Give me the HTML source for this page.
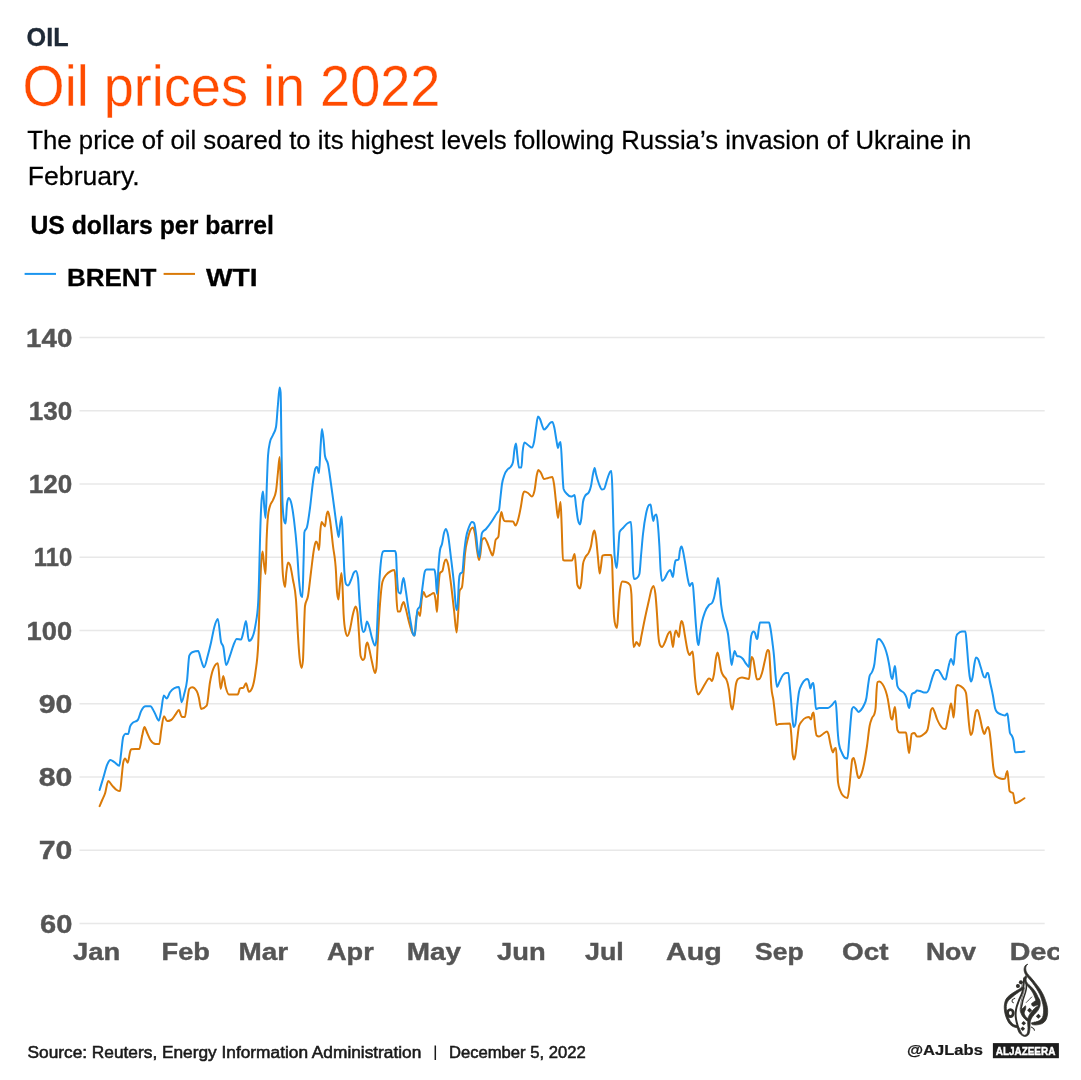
<!DOCTYPE html>
<html><head><meta charset="utf-8"><title>Oil prices in 2022</title>
<style>
html,body{margin:0;padding:0;background:#fff;}
body{width:1081px;height:1080px;position:relative;overflow:hidden;}
svg{position:absolute;left:0;top:0;will-change:transform;font-family:"Liberation Sans",sans-serif;}
text{white-space:pre;}
</style></head><body>
<svg width="1081" height="1080" viewBox="0 0 1081 1080">
<defs><clipPath id="cl"><rect x="0" y="0" width="1059" height="1080"/></clipPath></defs>

<g stroke="#e8e8e8" stroke-width="1.5"><line x1="79.5" x2="1044.7" y1="337.60" y2="337.60"/><line x1="79.5" x2="1044.7" y1="410.85" y2="410.85"/><line x1="79.5" x2="1044.7" y1="484.10" y2="484.10"/><line x1="79.5" x2="1044.7" y1="557.35" y2="557.35"/><line x1="79.5" x2="1044.7" y1="630.60" y2="630.60"/><line x1="79.5" x2="1044.7" y1="703.85" y2="703.85"/><line x1="79.5" x2="1044.7" y1="777.10" y2="777.10"/><line x1="79.5" x2="1044.7" y1="850.35" y2="850.35"/><line x1="79.5" x2="1044.7" y1="923.60" y2="923.60"/></g>
<path d="M99.6 806.2C100.5 804.1 101.3 802.0 102.2 800.0C103.2 797.7 104.1 796.3 105.1 793.3C106.1 790.1 107.2 781.1 108.2 781.1C109.5 781.1 110.9 784.2 112.2 785.6C113.7 787.2 115.2 789.1 116.7 790.0C117.8 790.7 118.9 791.1 120.0 791.1C120.6 791.1 121.2 780.9 121.8 775.6C122.3 771.2 122.8 764.3 123.3 762.2C123.9 759.7 124.5 758.4 125.1 758.4C126.0 758.4 126.9 762.7 127.8 762.7C128.5 762.7 129.3 754.7 130.0 752.2C130.4 751.0 130.7 749.3 131.1 749.3C133.8 749.0 136.6 749.2 139.3 748.9C140.3 748.8 141.2 739.6 142.2 735.6C142.9 732.5 143.7 727.1 144.4 727.1C145.4 727.1 146.3 731.2 147.3 733.3C148.3 735.5 149.4 738.4 150.4 740.0C152.1 742.7 153.9 744.0 155.6 744.0C156.8 744.0 158.1 744.0 159.3 744.0C159.9 744.0 160.5 734.9 161.1 731.1C162.1 724.9 163.0 716.2 164.0 716.2C165.0 716.2 166.1 721.1 167.1 721.1C168.4 721.1 169.8 720.7 171.1 720.0C172.6 719.2 174.1 716.3 175.6 714.4C176.7 713.0 177.8 710.0 178.9 710.0C179.8 710.0 180.7 716.5 181.6 716.7C182.7 717.0 183.8 717.1 184.9 717.1C185.6 717.1 186.4 706.9 187.1 702.2C187.8 697.5 188.6 689.7 189.3 688.9C190.3 687.8 191.2 687.3 192.2 687.3C193.7 687.3 195.2 688.6 196.7 691.1C197.4 692.3 198.2 694.8 198.9 697.8C199.6 700.8 200.4 708.9 201.1 708.9C203.0 708.9 204.8 707.8 206.7 705.6C207.8 704.3 208.9 688.3 210.0 682.2C211.1 676.1 212.2 671.6 213.3 668.9C214.8 665.2 216.3 663.3 217.8 663.3C218.8 663.3 219.7 688.9 220.7 688.9C221.6 688.9 222.4 676.0 223.3 676.0C224.1 676.0 224.8 683.9 225.6 686.7C226.7 690.8 227.8 694.4 228.9 694.4C231.9 694.4 234.8 694.4 237.8 694.4C238.5 694.4 239.3 688.7 240.0 688.4C241.1 688.0 242.2 688.2 243.3 687.8C244.2 687.5 245.1 683.3 246.0 683.3C247.0 683.3 247.9 691.8 248.9 691.8C250.0 691.8 251.1 690.5 252.2 687.8C253.3 685.1 254.5 680.1 255.6 671.1C256.5 664.2 257.3 662.2 258.2 644.4C258.8 632.1 259.4 605.7 260.0 590.0C260.3 581.3 260.7 572.0 261.0 566.0C261.5 556.4 262.1 551.6 262.6 551.6C263.1 551.6 263.5 560.4 264.0 564.0C264.5 568.1 265.1 574.0 265.6 574.0C265.9 574.0 266.3 549.0 266.6 540.0C267.1 527.4 267.5 520.7 268.0 516.0C268.7 509.3 269.3 508.5 270.0 506.0C271.0 502.2 272.0 502.5 273.0 500.0C274.0 497.5 275.0 497.0 276.0 491.0C276.7 487.0 277.3 478.3 278.0 472.0C278.5 467.0 279.1 457.0 279.6 457.0C279.9 457.0 280.3 466.2 280.6 480.0C280.9 493.8 281.3 524.8 281.6 540.0C282.1 561.3 282.5 570.9 283.0 576.0C283.7 583.3 284.3 587.0 285.0 587.0C285.5 587.0 285.9 576.0 286.4 572.0C286.9 567.5 287.5 562.4 288.0 562.4C288.7 562.4 289.3 563.3 290.0 565.0C291.0 567.6 292.0 574.2 293.0 580.0C294.0 585.8 295.0 586.7 296.0 600.0C296.7 608.9 297.3 625.6 298.0 636.0C298.5 644.3 299.1 652.7 299.6 658.0C300.3 664.6 300.9 668.0 301.6 668.0C302.1 668.0 302.5 665.3 303.0 660.0C303.3 656.2 303.7 639.0 304.0 630.0C304.3 621.0 304.7 608.2 305.0 606.0C306.0 599.3 307.0 601.7 308.0 596.0C309.0 590.3 310.0 579.8 311.0 572.0C312.0 564.2 313.0 554.3 314.0 549.0C314.7 545.5 315.3 541.6 316.0 541.6C316.5 541.6 317.1 542.4 317.6 544.0C318.1 545.4 318.5 550.0 319.0 550.0C319.5 550.0 319.9 534.8 320.4 530.0C320.8 525.9 321.2 522.0 321.6 522.0C322.2 522.0 322.8 523.6 323.4 524.4C323.9 525.1 324.5 526.4 325.0 526.4C325.5 526.4 325.9 518.4 326.4 516.0C326.9 513.2 327.5 511.6 328.0 511.6C328.7 511.6 329.3 516.0 330.0 520.0C331.0 526.0 332.0 537.3 333.0 546.0C334.0 554.7 335.0 554.8 336.0 572.0C336.3 577.7 336.7 588.4 337.0 592.0C337.5 597.1 337.9 599.6 338.4 599.6C338.8 599.6 339.2 591.7 339.6 588.0C340.2 582.5 340.8 573.0 341.4 573.0C341.7 573.0 342.1 578.2 342.4 584.0C342.8 590.9 343.2 606.5 343.6 614.0C344.2 625.3 344.8 628.0 345.4 631.0C346.1 634.3 346.7 636.0 347.4 636.0C348.1 636.0 348.9 633.5 349.6 631.0C350.7 627.2 351.9 618.3 353.0 614.0C353.9 610.7 354.7 606.6 355.6 606.6C356.2 606.6 356.8 608.4 357.4 612.0C357.9 615.2 358.5 626.7 359.0 634.0C359.5 641.3 360.1 654.2 360.6 656.0C361.4 658.7 362.2 660.0 363.0 660.0C363.5 660.0 364.1 659.3 364.6 658.0C365.1 656.8 365.5 648.3 366.0 646.0C366.5 643.7 366.9 642.6 367.4 642.6C367.9 642.6 368.5 646.0 369.0 648.0C370.0 651.8 371.0 657.8 372.0 662.0C373.0 666.2 374.0 673.0 375.0 673.0C375.5 673.0 375.9 671.3 376.4 668.0C376.9 664.2 377.5 645.7 378.0 636.0C378.7 623.9 379.3 612.6 380.0 604.0C380.8 593.7 381.6 585.1 382.4 582.0C383.6 577.3 384.8 576.8 386.0 575.0C387.7 572.6 389.3 571.8 391.0 571.0C392.1 570.4 393.3 570.0 394.4 570.0C394.8 570.0 395.2 574.1 395.6 580.0C395.9 584.9 396.3 594.7 396.6 600.0C396.9 605.3 397.3 611.6 397.6 611.6C398.4 611.6 399.2 611.6 400.0 611.6C400.7 611.6 401.3 606.7 402.0 605.0C402.5 603.7 403.1 602.0 403.6 602.0C404.3 602.0 404.9 605.7 405.6 608.0C406.7 611.9 407.9 617.8 409.0 622.0C410.0 625.7 411.0 629.7 412.0 632.0C412.9 634.0 413.7 635.6 414.6 635.6C415.1 635.6 415.5 623.7 416.0 620.0C416.7 614.7 417.3 612.0 418.0 612.0C418.7 612.0 419.3 616.0 420.0 616.0C420.5 616.0 421.1 603.9 421.6 600.0C422.3 595.1 422.9 592.0 423.6 592.0C424.4 592.0 425.2 597.0 426.0 597.0C427.3 597.0 428.7 595.7 430.0 595.0C431.3 594.3 432.7 593.0 434.0 593.0C434.5 593.0 435.1 596.5 435.6 600.0C436.1 603.1 436.5 612.0 437.0 612.0C437.5 612.0 437.9 594.3 438.4 588.0C438.9 580.8 439.5 573.9 440.0 573.0C440.8 571.7 441.6 572.3 442.4 571.0C443.1 569.9 443.7 563.9 444.4 562.0C444.9 560.5 445.5 559.4 446.0 559.4C446.7 559.4 447.3 561.3 448.0 564.0C449.0 568.0 450.0 576.3 451.0 584.0C452.0 591.7 453.0 601.4 454.0 610.0C454.9 617.5 455.7 632.4 456.6 632.4C457.1 632.4 457.5 622.3 458.0 616.0C458.5 608.8 459.1 592.8 459.6 591.0C460.4 588.3 461.2 589.7 462.0 587.0C462.5 585.2 463.1 578.0 463.6 572.0C464.1 566.8 464.5 558.9 465.0 554.0C466.0 543.5 467.0 542.2 468.0 538.0C469.0 533.8 470.0 530.4 471.0 529.0C471.7 528.1 472.3 527.6 473.0 527.6C473.7 527.6 474.3 530.3 475.0 534.0C475.7 537.7 476.3 545.7 477.0 550.0C477.7 554.3 478.3 560.0 479.0 560.0C479.5 560.0 479.9 557.0 480.4 554.0C480.9 550.6 481.5 540.9 482.0 540.0C482.8 538.7 483.6 538.0 484.4 538.0C485.3 538.0 486.1 540.2 487.0 542.0C488.0 544.1 489.0 547.6 490.0 550.0C490.9 552.0 491.7 555.4 492.6 555.4C493.1 555.4 493.5 552.3 494.0 550.0C494.5 547.3 495.1 541.3 495.6 540.0C496.5 537.7 497.5 538.9 498.4 536.6C498.9 535.3 499.5 524.2 500.0 520.0C500.5 516.3 500.9 512.0 501.4 512.0C501.9 512.0 502.5 516.5 503.0 518.0C503.5 519.4 503.9 521.0 504.4 521.0C507.3 521.3 510.1 521.1 513.0 521.4C513.9 521.5 514.7 525.6 515.6 525.6C516.4 525.6 517.2 522.7 518.0 520.0C519.0 516.6 520.0 511.5 521.0 506.0C521.7 502.4 522.3 496.3 523.0 494.0C523.5 492.4 523.9 491.6 524.4 491.6C525.6 491.6 526.8 492.3 528.0 493.0C529.3 493.8 530.7 496.4 532.0 496.4C532.8 496.4 533.6 494.4 534.4 491.0C535.3 487.3 536.1 477.6 537.0 474.0C537.5 472.1 537.9 470.0 538.4 470.0C539.3 470.0 540.1 471.7 541.0 473.0C542.0 474.5 543.0 479.0 544.0 479.0C545.3 479.0 546.7 478.3 548.0 478.0C549.5 477.6 550.9 477.0 552.4 477.0C552.9 477.0 553.5 480.6 554.0 484.0C554.7 488.3 555.3 496.3 556.0 502.0C556.7 507.7 557.3 518.0 558.0 518.0C558.5 518.0 558.9 510.8 559.4 508.0C559.8 505.6 560.2 502.0 560.6 502.0C560.9 502.0 561.3 516.2 561.6 524.0C562.1 535.0 562.5 559.8 563.0 560.0C564.0 560.4 565.0 560.6 566.0 560.6C568.0 560.6 570.0 560.6 572.0 560.6C572.9 560.6 573.7 554.0 574.6 554.0C575.1 554.0 575.5 562.8 576.0 568.0C576.5 573.2 576.9 583.8 577.4 585.0C578.3 587.3 579.1 588.4 580.0 588.4C580.5 588.4 580.9 585.6 581.4 582.0C581.9 577.9 582.5 567.2 583.0 564.0C583.7 560.0 584.3 559.7 585.0 558.0C586.3 554.7 587.7 555.3 589.0 552.0C589.7 550.3 590.3 549.0 591.0 546.0C591.7 543.0 592.3 536.6 593.0 534.0C593.5 532.2 593.9 530.6 594.4 530.6C594.9 530.6 595.5 534.3 596.0 538.0C596.7 542.7 597.3 551.4 598.0 558.0C598.5 563.3 599.1 573.6 599.6 573.6C600.1 573.6 600.5 569.0 601.0 566.0C601.5 563.0 601.9 555.8 602.4 555.6C603.3 555.2 604.1 555.0 605.0 555.0C607.0 555.0 609.0 555.0 611.0 555.0C611.3 555.0 611.7 556.7 612.0 560.0C612.3 563.3 612.7 580.7 613.0 590.0C613.3 599.3 613.7 611.8 614.0 616.0C614.5 622.7 615.1 624.5 615.6 626.0C616.1 627.3 616.5 628.0 617.0 628.0C617.5 628.0 617.9 615.9 618.4 610.0C618.9 603.2 619.5 593.8 620.0 590.0C620.8 584.3 621.6 581.4 622.4 581.4C623.6 581.4 624.8 581.6 626.0 582.0C627.3 582.4 628.7 583.0 630.0 585.0C630.5 585.7 630.9 588.0 631.4 594.0C631.7 598.3 632.1 617.5 632.4 626.0C632.8 636.2 633.2 647.0 633.6 647.0C634.1 647.0 634.5 645.8 635.0 645.0C635.5 644.2 635.9 642.0 636.4 642.0C636.9 642.0 637.5 643.3 638.0 644.0C638.5 644.6 638.9 646.0 639.4 646.0C640.1 646.0 640.7 639.3 641.4 636.0C642.6 630.0 643.8 623.7 645.0 618.0C646.3 611.6 647.7 605.8 649.0 600.0C649.9 596.2 650.7 591.4 651.6 589.0C652.2 587.4 652.8 586.0 653.4 586.0C654.1 586.0 654.7 588.7 655.4 594.0C655.9 598.3 656.5 606.4 657.0 614.0C657.5 620.6 657.9 630.9 658.4 636.0C658.9 641.9 659.5 643.9 660.0 645.0C660.7 646.3 661.3 647.0 662.0 647.0C663.0 647.0 664.0 644.2 665.0 642.0C666.0 639.8 667.0 635.7 668.0 634.0C668.8 632.6 669.6 631.6 670.4 631.6C670.9 631.6 671.5 639.0 672.0 642.0C672.3 643.9 672.7 647.0 673.0 647.0C673.5 647.0 673.9 638.7 674.4 636.0C674.9 632.9 675.5 630.6 676.0 630.6C676.5 630.6 677.1 632.9 677.6 634.0C678.1 635.0 678.5 637.0 679.0 637.0C679.3 637.0 679.7 630.4 680.0 628.0C680.5 624.6 680.9 621.0 681.4 621.0C681.9 621.0 682.5 622.0 683.0 624.0C683.7 626.5 684.3 632.2 685.0 636.0C686.0 641.7 687.0 648.9 688.0 652.0C688.5 653.6 689.1 655.0 689.6 655.0C690.1 655.0 690.5 653.5 691.0 653.0C691.5 652.4 692.1 651.6 692.6 651.6C692.9 651.6 693.3 656.6 693.6 660.0C694.1 664.8 694.5 673.1 695.0 678.0C695.7 685.0 696.3 689.7 697.0 692.0C697.5 693.6 697.9 694.4 698.4 694.4C699.3 694.4 700.1 692.3 701.0 691.0C702.3 689.0 703.7 686.1 705.0 684.0C706.3 681.9 707.7 678.4 709.0 678.4C709.5 678.4 709.9 678.6 710.4 679.0C710.9 679.4 711.5 681.0 712.0 681.0C712.7 681.0 713.3 677.8 714.0 674.0C714.7 670.2 715.3 661.7 716.0 658.0C716.5 655.1 717.1 652.4 717.6 652.4C718.2 652.4 718.8 656.8 719.4 660.0C719.9 662.8 720.5 667.6 721.0 670.0C721.7 673.1 722.3 673.6 723.0 675.0C724.3 677.9 725.7 677.0 727.0 681.0C727.7 683.0 728.3 685.8 729.0 690.0C729.7 694.2 730.3 702.8 731.0 706.0C731.5 708.2 731.9 709.6 732.4 709.6C732.9 709.6 733.5 703.7 734.0 700.0C734.7 695.4 735.3 687.3 736.0 684.0C736.7 680.7 737.3 679.5 738.0 679.0C739.3 678.1 740.7 677.6 742.0 677.6C744.3 677.6 746.7 679.0 749.0 679.0C749.5 679.0 749.9 669.9 750.4 666.0C750.8 662.7 751.2 657.0 751.6 657.0C752.2 657.0 752.8 658.0 753.4 660.0C753.9 661.8 754.5 667.0 755.0 670.0C755.7 673.7 756.3 679.4 757.0 679.4C757.8 679.4 758.6 679.3 759.4 679.0C760.3 678.7 761.1 675.8 762.0 673.0C763.0 669.8 764.0 664.1 765.0 660.0C765.9 656.5 766.7 650.0 767.6 650.0C768.1 650.0 768.5 650.3 769.0 651.0C769.3 651.5 769.7 659.1 770.0 664.0C770.5 670.9 770.9 682.4 771.4 688.0C772.1 696.0 772.7 695.0 773.4 700.0C773.9 704.0 774.5 709.6 775.0 714.0C775.5 717.9 775.9 725.0 776.4 725.0C777.3 725.0 778.1 724.1 779.0 724.0C782.7 723.7 786.3 723.6 790.0 723.6C790.5 723.6 790.9 730.3 791.4 736.0C791.8 740.9 792.2 750.9 792.6 754.0C793.1 757.6 793.5 759.4 794.0 759.4C794.5 759.4 795.1 757.2 795.6 754.0C796.2 750.4 796.8 742.9 797.4 738.0C797.9 733.7 798.5 727.8 799.0 726.0C800.0 722.7 801.0 722.3 802.0 721.0C803.3 719.2 804.7 718.1 806.0 717.6C807.0 717.2 808.0 717.0 809.0 717.0C809.7 717.0 810.3 719.4 811.0 719.4C811.5 719.4 811.9 715.2 812.4 714.0C812.8 713.0 813.2 712.4 813.6 712.4C814.1 712.4 814.5 722.3 815.0 726.0C815.5 730.2 816.1 735.0 816.6 735.4C817.4 736.1 818.2 736.4 819.0 736.4C820.3 736.4 821.7 734.8 823.0 734.0C824.3 733.2 825.7 731.6 827.0 731.6C827.5 731.6 827.9 732.6 828.4 734.0C829.1 736.0 829.7 741.2 830.4 744.0C831.3 747.7 832.1 752.4 833.0 752.4C833.5 752.4 833.9 749.6 834.4 749.0C834.9 748.3 835.5 748.0 836.0 748.0C836.3 748.0 836.7 758.3 837.0 764.0C837.3 769.7 837.7 779.3 838.0 782.0C838.7 787.3 839.3 787.9 840.0 790.0C841.0 793.1 842.0 794.5 843.0 795.6C844.5 797.2 845.9 798.0 847.4 798.0C848.1 798.0 848.7 791.5 849.4 786.0C849.9 781.6 850.5 774.7 851.0 770.0C851.5 765.9 851.9 759.8 852.4 759.0C852.8 758.3 853.2 758.0 853.6 758.0C854.2 758.0 854.8 761.4 855.4 764.0C856.1 766.9 856.7 772.6 857.4 775.0C857.8 776.5 858.2 778.0 858.6 778.0C859.4 778.0 860.2 776.9 861.0 775.0C862.0 772.7 863.0 768.8 864.0 764.0C865.0 759.2 866.0 752.9 867.0 746.0C867.9 740.0 868.7 730.7 869.6 726.0C870.4 721.7 871.2 720.0 872.0 718.0C872.8 716.0 873.6 716.7 874.4 714.0C874.8 712.7 875.2 712.0 875.6 708.0C875.9 704.7 876.3 694.3 876.6 690.0C876.9 685.7 877.3 682.2 877.6 682.0C878.2 681.6 878.8 681.4 879.4 681.4C880.4 681.4 881.4 682.6 882.4 684.0C883.4 685.4 884.4 687.1 885.4 690.0C886.1 692.2 886.9 694.4 887.6 698.0C888.3 701.2 888.9 706.1 889.6 710.0C890.1 712.7 890.5 716.9 891.0 718.0C891.5 719.1 891.9 719.6 892.4 719.6C892.8 719.6 893.2 714.0 893.6 712.0C894.1 709.6 894.5 707.0 895.0 707.0C895.3 707.0 895.7 712.9 896.0 716.0C896.5 720.4 896.9 728.9 897.4 730.0C898.1 731.6 898.7 732.4 899.4 732.4C901.6 732.5 903.8 732.5 906.0 732.6C906.5 732.6 906.9 738.8 907.4 742.0C907.9 745.6 908.5 753.0 909.0 753.0C909.5 753.0 909.9 747.5 910.4 744.0C910.8 741.0 911.2 734.3 911.6 734.0C912.5 733.3 913.5 733.0 914.4 733.0C915.3 733.0 916.1 736.6 917.0 736.6C918.0 736.6 919.0 736.5 920.0 736.4C921.3 736.2 922.7 735.2 924.0 734.0C925.1 733.0 926.3 732.7 927.4 730.0C928.1 728.4 928.7 723.8 929.4 720.0C929.9 717.0 930.5 711.3 931.0 710.0C931.5 708.7 932.1 708.0 932.6 708.0C933.3 708.0 933.9 710.4 934.6 712.0C935.4 713.9 936.2 717.0 937.0 719.0C938.0 721.5 939.0 723.4 940.0 725.0C941.0 726.6 942.0 728.3 943.0 728.6C943.9 728.9 944.7 729.0 945.6 729.0C946.2 729.0 946.8 724.0 947.4 721.0C948.1 717.7 948.7 713.1 949.4 710.0C949.9 707.5 950.5 703.6 951.0 703.6C951.5 703.6 951.9 707.4 952.4 710.0C952.8 712.2 953.2 717.6 953.6 717.6C954.1 717.6 954.5 708.0 955.0 702.0C955.3 697.7 955.7 689.2 956.0 688.0C956.5 686.0 957.1 685.0 957.6 685.0C958.7 685.0 959.9 685.7 961.0 686.4C962.0 687.1 963.0 687.5 964.0 689.0C964.7 690.0 965.3 690.3 966.0 693.0C966.5 694.9 966.9 701.2 967.4 706.0C967.9 711.4 968.5 719.2 969.0 724.0C969.5 728.8 970.1 735.0 970.6 735.0C971.2 735.0 971.8 734.0 972.4 732.0C973.1 729.8 973.7 722.8 974.4 719.0C974.9 716.0 975.5 711.7 976.0 711.0C976.5 710.3 977.1 710.0 977.6 710.0C978.4 710.0 979.2 714.8 980.0 718.0C980.8 721.2 981.6 726.2 982.4 729.0C983.1 731.3 983.7 734.0 984.4 734.0C985.1 734.0 985.7 730.2 986.4 729.0C986.9 728.0 987.5 727.0 988.0 727.0C988.5 727.0 989.1 728.9 989.6 732.0C990.2 735.5 990.8 742.4 991.4 748.0C992.1 754.3 992.7 763.4 993.4 768.0C994.1 772.6 994.7 774.7 995.4 775.6C996.6 777.2 997.8 777.4 999.0 778.0C1000.3 778.6 1001.7 779.0 1003.0 779.0C1003.7 779.0 1004.3 778.9 1005.0 778.6C1005.5 778.4 1005.9 774.3 1006.4 773.0C1006.7 772.1 1007.1 771.0 1007.4 771.0C1007.7 771.0 1008.1 777.0 1008.4 780.0C1008.8 783.6 1009.2 790.4 1009.6 791.0C1010.2 791.9 1010.8 792.1 1011.4 792.4C1011.9 792.7 1012.5 792.6 1013.0 793.0C1013.7 793.5 1014.4 803.3 1015.1 803.3C1016.5 803.3 1017.9 802.2 1019.3 801.5C1021.0 800.6 1022.7 799.4 1024.4 798.2" fill="none" stroke="#da7a08" stroke-width="2" stroke-linejoin="round" stroke-linecap="round"/>
<path d="M99.6 790.0C100.8 785.9 102.1 781.9 103.3 777.8C104.6 773.4 106.0 767.4 107.3 764.4C108.3 762.1 109.4 760.0 110.4 760.0C111.7 760.0 113.1 761.4 114.4 762.2C116.0 763.2 117.7 765.8 119.3 765.8C119.9 765.8 120.5 757.6 121.1 753.3C121.8 748.0 122.6 738.5 123.3 736.7C124.1 734.8 124.8 733.8 125.6 733.8C126.5 733.8 127.3 734.0 128.2 734.0C128.8 734.0 129.4 728.5 130.0 726.7C130.7 724.6 131.5 724.2 132.2 723.3C134.1 721.1 135.9 722.2 137.8 720.0C138.9 718.7 140.0 713.3 141.1 711.1C142.6 708.1 144.1 706.2 145.6 706.2C147.2 706.2 148.8 706.2 150.4 706.2C151.7 706.2 153.1 710.0 154.4 712.2C155.9 714.7 157.4 720.7 158.9 720.7C159.6 720.7 160.4 714.8 161.1 711.1C162.0 706.6 162.9 695.6 163.8 695.6C164.8 695.6 165.7 698.4 166.7 698.4C167.8 698.4 168.9 693.8 170.0 692.2C171.5 690.1 172.9 688.9 174.4 688.2C175.9 687.5 177.4 687.1 178.9 687.1C179.8 687.1 180.7 702.2 181.6 702.2C182.5 702.2 183.5 697.1 184.4 693.3C185.3 689.6 186.2 687.5 187.1 680.0C187.8 673.9 188.6 657.3 189.3 655.6C190.3 653.3 191.2 652.6 192.2 652.2C194.2 651.5 196.2 651.1 198.2 651.1C199.2 651.1 200.1 657.3 201.1 660.0C202.1 662.7 203.0 667.3 204.0 667.3C205.3 667.3 206.5 660.2 207.8 655.6C208.9 651.6 210.0 647.0 211.1 642.2C212.2 637.4 213.3 630.6 214.4 626.7C215.5 622.7 216.7 618.9 217.8 618.9C218.9 618.9 220.0 637.7 221.1 642.2C221.8 645.2 222.6 643.8 223.3 646.7C224.3 650.5 225.2 665.1 226.2 665.1C227.5 665.1 228.7 659.1 230.0 655.6C231.1 652.5 232.2 648.4 233.3 645.6C234.4 642.8 235.6 638.9 236.7 638.9C238.2 638.9 239.6 639.6 241.1 639.6C241.8 639.6 242.6 634.9 243.3 632.2C244.2 628.9 245.1 621.1 246.0 621.1C247.0 621.1 247.9 641.1 248.9 641.1C250.0 641.1 251.1 640.0 252.2 637.8C253.3 635.5 254.5 631.8 255.6 624.4C256.5 618.7 257.3 617.0 258.2 602.2C258.5 597.6 258.7 588.9 259.0 580.0C259.3 568.9 259.7 551.4 260.0 540.0C260.5 521.7 261.1 506.4 261.6 500.0C262.1 494.4 262.5 491.6 263.0 491.6C263.5 491.6 263.9 503.4 264.4 508.0C264.8 512.0 265.2 518.0 265.6 518.0C266.1 518.0 266.5 491.8 267.0 480.0C267.3 471.6 267.7 460.7 268.0 456.0C268.7 446.7 269.3 445.1 270.0 442.0C271.0 437.3 272.0 437.5 273.0 435.0C274.0 432.5 275.0 432.3 276.0 427.0C276.7 423.4 277.3 411.2 278.0 404.0C278.5 398.2 279.1 387.6 279.6 387.6C279.9 387.6 280.3 389.2 280.6 392.4C280.9 395.0 281.1 424.1 281.4 440.0C281.7 459.9 282.1 491.7 282.4 500.0C282.9 513.3 283.5 517.6 284.0 520.0C284.5 522.4 285.1 523.6 285.6 523.6C286.1 523.6 286.5 507.5 287.0 504.0C287.5 500.0 288.1 498.0 288.6 498.0C289.4 498.0 290.2 499.3 291.0 502.0C292.0 505.3 293.0 512.0 294.0 520.0C295.0 528.0 296.0 537.0 297.0 550.0C297.7 558.7 298.3 572.4 299.0 580.0C299.7 587.6 300.3 594.1 301.0 595.5C301.5 596.5 301.9 597.0 302.4 597.0C302.8 597.0 303.2 573.3 303.6 560.0C303.9 551.1 304.1 533.0 304.4 532.0C305.3 528.7 306.1 530.3 307.0 527.0C308.0 523.2 309.0 515.5 310.0 508.0C311.0 500.5 312.0 488.9 313.0 482.0C313.9 476.0 314.7 469.2 315.6 468.0C316.1 467.3 316.5 467.0 317.0 467.0C317.7 467.0 318.3 473.0 319.0 473.0C319.5 473.0 320.1 453.7 320.6 446.0C321.1 439.3 321.5 429.0 322.0 429.0C322.5 429.0 323.1 435.0 323.6 440.0C324.1 444.3 324.5 453.5 325.0 456.0C326.0 461.3 327.0 459.3 328.0 464.0C329.0 468.7 330.0 477.0 331.0 484.0C332.0 491.0 333.0 498.7 334.0 506.0C335.0 513.3 336.0 521.8 337.0 528.0C337.5 531.3 338.1 537.0 338.6 537.0C339.1 537.0 339.5 529.3 340.0 526.0C340.5 522.3 341.1 516.4 341.6 516.4C342.1 516.4 342.5 530.7 343.0 540.0C343.5 549.3 343.9 565.0 344.4 572.0C344.9 580.0 345.5 583.1 346.0 584.0C346.7 585.1 347.3 585.6 348.0 585.6C349.0 585.6 350.0 582.2 351.0 580.0C352.0 577.8 353.0 573.8 354.0 572.4C354.7 571.5 355.3 571.0 356.0 571.0C356.7 571.0 357.3 573.3 358.0 578.0C358.5 581.3 358.9 593.4 359.4 600.0C360.1 609.5 360.7 618.7 361.4 624.0C362.1 629.3 362.7 632.0 363.4 632.0C363.9 632.0 364.5 631.3 365.0 630.0C365.7 628.3 366.3 621.6 367.0 621.6C367.7 621.6 368.3 624.1 369.0 626.0C370.0 628.9 371.0 634.7 372.0 638.0C373.0 641.3 374.0 645.6 375.0 645.6C375.5 645.6 375.9 643.7 376.4 640.0C376.9 635.7 377.5 616.3 378.0 606.0C378.7 593.1 379.3 580.6 380.0 572.0C381.0 559.1 382.0 552.5 383.0 551.6C383.5 551.2 383.9 551.0 384.4 551.0C387.9 551.0 391.5 551.0 395.0 551.0C395.3 551.0 395.7 552.0 396.0 554.0C396.3 556.0 396.7 570.1 397.0 576.0C397.5 584.2 397.9 591.3 398.4 592.0C399.1 593.1 399.9 593.6 400.6 593.6C401.2 593.6 401.8 584.7 402.4 582.0C402.8 580.2 403.2 578.0 403.6 578.0C404.2 578.0 404.8 584.3 405.4 588.0C406.3 593.3 407.1 600.4 408.0 606.0C409.0 612.5 410.0 618.6 411.0 624.0C411.7 627.6 412.3 632.7 413.0 634.0C413.5 635.1 414.1 635.6 414.6 635.6C415.1 635.6 415.5 628.3 416.0 624.0C416.5 619.7 416.9 611.4 417.4 610.0C418.3 607.3 419.1 608.7 420.0 606.0C420.8 603.5 421.6 593.6 422.4 588.0C423.3 581.9 424.1 572.5 425.0 571.0C425.5 570.1 426.1 569.6 426.6 569.6C429.2 569.6 431.8 569.6 434.4 569.6C434.8 569.6 435.2 572.5 435.6 576.0C436.1 580.1 436.5 594.0 437.0 594.0C437.5 594.0 437.9 575.1 438.4 568.0C438.9 559.9 439.5 553.2 440.0 550.0C440.7 546.0 441.3 546.8 442.0 544.0C442.7 541.2 443.3 535.5 444.0 533.0C444.7 530.5 445.3 529.0 446.0 529.0C446.7 529.0 447.3 531.8 448.0 535.0C449.0 539.9 450.0 549.8 451.0 558.0C452.0 566.2 453.0 574.1 454.0 584.0C454.8 591.9 455.6 610.0 456.4 610.0C456.8 610.0 457.2 608.7 457.6 606.0C458.1 602.9 458.5 585.2 459.0 580.0C459.3 576.3 459.7 574.6 460.0 574.0C460.8 572.7 461.6 573.3 462.4 572.0C462.9 571.1 463.5 559.2 464.0 554.0C464.7 547.5 465.3 542.2 466.0 538.0C467.0 531.7 468.0 529.7 469.0 527.0C470.0 524.3 471.0 522.0 472.0 522.0C472.7 522.0 473.3 522.3 474.0 523.0C474.7 523.7 475.3 529.2 476.0 534.0C476.7 538.8 477.3 548.1 478.0 552.0C478.5 554.7 478.9 557.0 479.4 557.0C479.8 557.0 480.2 547.8 480.6 544.0C481.1 539.6 481.5 533.9 482.0 533.0C483.3 530.3 484.7 530.5 486.0 529.0C488.0 526.7 490.0 524.0 492.0 521.0C493.7 518.5 495.3 515.5 497.0 513.0C497.7 512.0 498.3 512.0 499.0 510.0C499.5 508.6 499.9 502.0 500.4 498.0C500.9 493.4 501.5 487.6 502.0 484.0C502.8 478.6 503.6 477.3 504.4 475.0C505.6 471.5 506.8 470.5 508.0 469.0C509.0 467.8 510.0 468.1 511.0 466.4C511.7 465.3 512.3 464.9 513.0 462.0C513.5 459.9 513.9 453.0 514.4 450.0C514.9 446.6 515.5 443.6 516.0 443.6C516.5 443.6 516.9 452.2 517.4 456.0C517.9 460.3 518.5 467.6 519.0 467.6C519.8 467.6 520.6 467.6 521.4 467.6C521.8 467.6 522.2 456.0 522.6 452.0C523.2 446.0 523.8 442.4 524.4 442.4C525.6 442.4 526.8 444.2 528.0 445.0C529.3 445.9 530.7 447.6 532.0 447.6C532.7 447.6 533.3 445.3 534.0 442.0C534.7 438.7 535.3 432.2 536.0 428.0C536.7 423.8 537.3 416.6 538.0 416.6C538.7 416.6 539.3 417.6 540.0 419.0C540.7 420.4 541.3 423.2 542.0 425.0C542.7 426.8 543.3 429.6 544.0 429.6C545.0 429.6 546.0 428.1 547.0 427.0C548.0 425.9 549.0 423.8 550.0 423.0C550.8 422.3 551.6 422.0 552.4 422.0C553.1 422.0 553.7 425.0 554.4 428.0C555.1 431.0 555.7 436.4 556.4 440.0C556.9 442.9 557.5 448.0 558.0 448.0C558.5 448.0 558.9 443.8 559.4 443.0C559.8 442.3 560.2 442.0 560.6 442.0C560.9 442.0 561.3 450.3 561.6 456.0C561.9 461.7 562.3 470.5 562.6 476.0C562.9 481.5 563.3 488.0 563.6 489.0C564.7 492.3 565.9 492.8 567.0 494.0C568.3 495.5 569.7 496.6 571.0 496.6C571.7 496.6 572.3 496.3 573.0 496.0C573.5 495.7 574.1 495.0 574.6 495.0C575.1 495.0 575.5 502.5 576.0 506.0C576.7 511.0 577.3 517.1 578.0 520.0C578.7 522.9 579.3 524.4 580.0 524.4C580.5 524.4 580.9 521.3 581.4 518.0C581.9 514.2 582.5 505.2 583.0 502.0C583.7 498.0 584.3 497.3 585.0 496.0C586.3 493.3 587.7 494.7 589.0 492.0C589.7 490.7 590.3 489.0 591.0 486.0C591.7 483.0 592.3 477.2 593.0 474.0C593.5 471.5 594.1 468.0 594.6 468.0C595.1 468.0 595.5 472.1 596.0 474.0C597.0 478.0 598.0 481.4 599.0 484.0C600.0 486.6 601.0 489.6 602.0 489.6C602.7 489.6 603.3 489.4 604.0 489.0C605.0 488.4 606.0 482.8 607.0 480.0C608.0 477.2 609.0 473.3 610.0 472.0C610.5 471.4 610.9 471.0 611.4 471.0C611.7 471.0 612.1 480.8 612.4 490.0C612.7 499.2 613.1 515.7 613.4 526.0C613.8 538.4 614.2 551.2 614.6 556.0C615.3 564.0 615.9 568.0 616.6 568.0C617.1 568.0 617.5 559.5 618.0 554.0C618.5 547.7 619.1 533.3 619.6 532.0C620.7 529.3 621.9 529.3 623.0 528.0C624.7 526.2 626.3 524.0 628.0 523.0C629.0 522.4 630.0 522.0 631.0 522.0C631.3 522.0 631.7 532.0 632.0 540.0C632.3 548.0 632.7 564.0 633.0 570.0C633.3 576.0 633.7 579.0 634.0 579.0C635.0 579.0 636.0 578.7 637.0 578.0C637.8 577.5 638.6 576.7 639.4 574.0C639.9 572.2 640.5 561.9 641.0 556.0C641.7 548.6 642.3 540.2 643.0 534.0C644.0 524.7 645.0 518.8 646.0 514.0C647.0 509.2 648.0 505.8 649.0 505.0C649.5 504.6 650.1 504.4 650.6 504.4C651.1 504.4 651.5 511.2 652.0 514.0C652.5 516.8 652.9 521.0 653.4 521.0C653.8 521.0 654.2 516.7 654.6 516.0C655.2 514.9 655.8 514.4 656.4 514.4C656.9 514.4 657.5 520.1 658.0 526.0C658.5 531.1 658.9 537.9 659.4 546.0C659.8 552.9 660.2 564.2 660.6 570.0C661.1 576.7 661.5 581.0 662.0 581.0C662.8 581.0 663.6 580.0 664.4 579.0C665.6 577.5 666.8 573.5 668.0 572.0C668.8 571.0 669.6 570.0 670.4 570.0C670.9 570.0 671.5 573.7 672.0 575.0C672.3 575.8 672.7 577.0 673.0 577.0C673.5 577.0 673.9 568.9 674.4 566.0C674.8 563.5 675.2 560.6 675.6 560.4C676.6 559.9 677.6 560.1 678.6 559.6C679.1 559.4 679.5 552.1 680.0 550.0C680.5 547.6 681.1 546.4 681.6 546.4C682.1 546.4 682.5 549.0 683.0 551.0C683.7 553.8 684.3 558.2 685.0 562.0C686.0 567.7 687.0 575.5 688.0 580.0C688.5 582.4 689.1 586.0 689.6 586.0C690.1 586.0 690.5 584.5 691.0 584.0C691.5 583.4 692.1 583.0 692.6 583.0C693.1 583.0 693.5 592.4 694.0 598.0C694.7 606.0 695.3 618.0 696.0 626.0C696.5 631.6 696.9 637.9 697.4 641.0C697.8 643.7 698.2 645.0 698.6 645.0C699.1 645.0 699.5 637.3 700.0 634.0C700.7 629.3 701.3 625.3 702.0 622.0C703.0 617.1 704.0 614.7 705.0 612.0C706.3 608.5 707.7 606.5 709.0 605.0C710.0 603.9 711.0 604.3 712.0 603.0C712.7 602.1 713.3 600.5 714.0 598.0C714.7 595.5 715.3 591.3 716.0 588.0C716.7 584.7 717.3 578.0 718.0 578.0C718.5 578.0 718.9 582.1 719.4 586.0C719.9 590.4 720.5 599.2 721.0 604.0C721.7 609.9 722.3 612.7 723.0 616.0C724.0 620.9 725.0 622.3 726.0 626.0C726.7 628.5 727.3 629.7 728.0 634.0C728.7 638.3 729.3 646.3 730.0 652.0C730.5 656.5 731.1 665.0 731.6 665.0C732.1 665.0 732.5 660.2 733.0 658.0C733.5 655.5 734.1 651.0 734.6 651.0C735.4 651.0 736.2 655.7 737.0 656.0C738.0 656.4 739.0 656.2 740.0 656.6C741.0 657.0 742.0 657.8 743.0 659.0C744.0 660.2 745.0 662.3 746.0 663.6C747.0 664.9 748.0 667.0 749.0 667.0C749.3 667.0 749.7 653.0 750.0 648.0C750.5 641.0 750.9 636.4 751.4 635.0C752.1 632.7 752.9 631.6 753.6 631.6C754.1 631.6 754.5 632.1 755.0 633.0C755.5 633.9 755.9 637.1 756.4 638.0C756.7 638.7 757.1 639.0 757.4 639.0C757.8 639.0 758.2 632.6 758.6 630.0C759.1 626.9 759.5 622.4 760.0 622.4C763.0 622.4 766.0 622.4 769.0 622.4C769.5 622.4 769.9 625.6 770.4 628.0C771.1 631.5 771.7 636.7 772.4 642.0C772.9 646.3 773.5 650.2 774.0 656.0C774.5 661.1 774.9 669.0 775.4 674.0C775.9 679.7 776.5 687.0 777.0 687.0C777.8 687.0 778.6 683.6 779.4 682.0C780.6 679.6 781.8 676.5 783.0 675.0C784.0 673.8 785.0 673.0 786.0 673.0C786.8 673.0 787.6 673.0 788.4 673.0C788.8 673.0 789.2 679.9 789.6 684.0C790.1 688.8 790.5 694.3 791.0 700.0C791.5 705.7 791.9 713.3 792.4 718.0C792.8 722.0 793.2 727.0 793.6 727.0C794.2 727.0 794.8 726.0 795.4 724.0C795.9 722.2 796.5 712.9 797.0 708.0C797.7 701.9 798.3 695.6 799.0 692.0C800.0 686.7 801.0 686.0 802.0 684.0C803.0 682.0 804.0 680.8 805.0 680.0C805.8 679.3 806.6 679.0 807.4 679.0C807.9 679.0 808.5 680.2 809.0 682.0C809.5 683.6 809.9 688.6 810.4 688.6C810.9 688.6 811.5 684.8 812.0 684.0C812.5 683.3 812.9 683.0 813.4 683.0C813.8 683.0 814.2 690.0 814.6 694.0C815.1 698.6 815.5 709.0 816.0 709.0C817.0 709.0 818.0 708.0 819.0 708.0C822.0 708.0 825.0 708.0 828.0 708.0C829.3 708.0 830.7 706.3 832.0 705.0C833.2 703.9 834.4 701.0 835.6 701.0C835.9 701.0 836.3 707.2 836.6 712.0C836.9 716.8 837.3 725.1 837.6 730.0C838.1 736.8 838.5 741.2 839.0 744.0C840.0 750.0 841.0 750.7 842.0 753.0C843.0 755.3 844.0 757.5 845.0 758.0C845.8 758.4 846.6 758.6 847.4 758.6C847.9 758.6 848.5 748.1 849.0 742.0C849.5 735.9 850.1 727.8 850.6 722.0C851.1 717.0 851.5 710.2 852.0 709.0C852.5 707.7 853.1 707.0 853.6 707.0C854.4 707.0 855.2 708.2 856.0 709.0C856.8 709.8 857.6 712.0 858.4 712.0C859.3 712.0 860.1 711.0 861.0 710.0C862.0 708.8 863.0 707.4 864.0 705.0C864.8 703.1 865.6 702.5 866.4 698.0C866.9 695.0 867.5 689.7 868.0 686.0C868.5 682.3 869.1 677.8 869.6 676.0C870.4 673.3 871.2 674.0 872.0 672.0C872.8 670.0 873.6 669.3 874.4 664.0C874.9 660.5 875.5 654.2 876.0 650.0C876.5 646.3 876.9 640.6 877.4 640.0C877.9 639.3 878.5 639.0 879.0 639.0C880.0 639.0 881.0 640.5 882.0 642.0C883.0 643.5 884.0 645.3 885.0 648.0C885.8 650.2 886.6 652.6 887.4 656.0C888.1 658.8 888.7 662.2 889.4 666.0C889.9 669.0 890.5 673.8 891.0 676.0C891.5 677.9 891.9 679.0 892.4 679.0C892.8 679.0 893.2 674.0 893.6 672.0C894.1 669.6 894.5 666.0 895.0 666.0C895.3 666.0 895.7 671.3 896.0 674.0C896.5 677.8 896.9 684.6 897.4 686.0C898.3 688.7 899.1 688.9 900.0 690.0C901.3 691.6 902.7 691.1 904.0 693.0C904.9 694.3 905.7 694.7 906.6 698.0C907.1 699.8 907.5 703.3 908.0 705.0C908.4 706.5 908.8 708.0 909.2 708.0C909.6 708.0 910.0 703.1 910.4 701.0C910.9 698.2 911.5 694.6 912.0 694.0C913.0 692.9 914.0 693.2 915.0 692.4C915.7 691.9 916.3 690.6 917.0 690.6C918.0 690.6 919.0 690.8 920.0 691.0C921.3 691.3 922.7 692.4 924.0 692.4C924.9 692.4 925.7 692.4 926.6 692.4C927.4 692.4 928.2 691.0 929.0 689.0C929.7 687.3 930.3 684.2 931.0 682.0C931.9 679.1 932.7 676.0 933.6 674.0C934.4 672.1 935.2 670.0 936.0 670.0C936.7 670.0 937.3 670.0 938.0 670.0C939.0 670.0 940.0 672.5 941.0 674.0C942.0 675.5 943.0 678.2 944.0 679.0C944.5 679.4 945.1 679.6 945.6 679.6C946.2 679.6 946.8 674.6 947.4 672.0C948.1 669.1 948.7 665.3 949.4 663.0C949.9 661.2 950.5 659.0 951.0 659.0C951.5 659.0 951.9 660.9 952.4 662.0C952.8 662.9 953.2 665.0 953.6 665.0C954.1 665.0 954.5 654.8 955.0 650.0C955.5 645.2 955.9 637.4 956.4 636.0C956.9 634.4 957.5 634.1 958.0 633.6C959.3 632.3 960.7 631.8 962.0 631.6C963.1 631.5 964.3 631.4 965.4 631.4C965.7 631.4 966.1 636.6 966.4 640.0C966.9 645.4 967.5 654.0 968.0 660.0C968.5 666.0 969.1 672.4 969.6 676.0C970.1 679.2 970.5 681.6 971.0 681.6C971.5 681.6 972.1 679.6 972.6 677.0C973.2 674.0 973.8 667.3 974.4 664.0C974.9 661.0 975.5 657.4 976.0 657.4C976.7 657.4 977.3 657.9 978.0 659.0C979.0 660.6 980.0 665.0 981.0 668.0C982.0 671.0 983.0 676.1 984.0 677.0C984.5 677.4 984.9 677.6 985.4 677.6C985.9 677.6 986.5 673.0 987.0 673.0C987.3 673.0 987.7 673.0 988.0 673.0C988.7 673.0 989.3 679.0 990.0 682.0C991.0 686.6 992.0 690.5 993.0 696.0C993.7 699.6 994.3 705.3 995.0 708.0C995.7 710.7 996.3 711.2 997.0 712.0C998.3 713.6 999.7 713.8 1001.0 714.4C1002.3 715.0 1003.7 715.4 1005.0 715.4C1005.8 715.4 1006.6 713.6 1007.4 713.6C1007.8 713.6 1008.2 719.0 1008.6 722.0C1009.1 725.5 1009.5 731.6 1010.0 733.0C1010.7 735.0 1011.3 734.5 1012.0 736.0C1012.5 737.1 1012.9 737.7 1013.4 740.0C1014.0 742.7 1014.5 752.3 1015.1 752.3C1016.5 752.3 1017.9 752.2 1019.3 752.1C1021.0 752.0 1022.7 751.7 1024.4 751.4" fill="none" stroke="#1b95ef" stroke-width="2" stroke-linejoin="round" stroke-linecap="round"/>
<line x1="24.6" x2="56" y1="273.9" y2="273.9" stroke="#1b95ef" stroke-width="2"/>
<line x1="163.6" x2="195" y1="273.9" y2="273.9" stroke="#da7a08" stroke-width="2"/>
<line x1="435.3" x2="435.3" y1="1045.5" y2="1060" stroke="#1a1a1a" stroke-width="1.5"/>
<rect x="992.9" y="1043.1" width="66" height="15.1" fill="#1c1c1c"/>
<g clip-path="url(#cl)">
<text transform="translate(26.51 46.30) scale(0.9897 1)" font-size="25.5" font-weight="bold" fill="#1f2a37" stroke="#1f2a37" stroke-width="0.3">OIL</text>
<text transform="translate(22.60 106.10) scale(0.9491 1)" font-size="57" font-weight="normal" fill="#ff4b00" stroke="#fff" stroke-width="0.35" paint-order="fill stroke">Oil prices in 2022</text>
<text transform="translate(27.30 148.80) scale(0.9832 1)" font-size="26.2" font-weight="normal" fill="#000" stroke="#000" stroke-width="0.25">The price of oil soared to its highest levels following Russia’s invasion of Ukraine in</text>
<text transform="translate(27.87 184.90) scale(1.0147 1)" font-size="26.2" font-weight="normal" fill="#000" stroke="#000" stroke-width="0.25">February.</text>
<text transform="translate(30.43 233.80) scale(0.9677 1)" font-size="25.6" font-weight="bold" fill="#000" stroke="#000" stroke-width="0.3">US dollars per barrel</text>
<text transform="translate(66.93 285.80) scale(1.0707 1)" font-size="24.3" font-weight="bold" fill="#000" stroke="#000" stroke-width="0.3">BRENT</text>
<text transform="translate(205.90 285.80) scale(1.1582 1)" font-size="24.3" font-weight="bold" fill="#000" stroke="#000" stroke-width="0.3">WTI</text>
<text transform="translate(27.50 1057.80) scale(1.0605 1)" font-size="16.3" font-weight="normal" fill="#1a1a1a" stroke="#1a1a1a" stroke-width="0.55">Source: Reuters, Energy Information Administration</text>
<text transform="translate(448.98 1057.80) scale(1.0204 1)" font-size="16.3" font-weight="normal" fill="#1a1a1a" stroke="#1a1a1a" stroke-width="0.55">December 5, 2022</text>
<text transform="translate(907.00 1055.40) scale(1.0878 1)" font-size="15.2" font-weight="bold" fill="#1a1a1a" stroke="#1a1a1a" stroke-width="0.25">@AJLabs</text>
<text transform="translate(995.70 1054.60) scale(0.9387 1)" font-size="10.6" font-weight="bold" fill="#fff" stroke="#fff" stroke-width="0.4">ALJAZEERA</text>
<text transform="translate(72.90 959.60) scale(1.1540 1)" font-size="23.8" font-weight="bold" fill="#555555" stroke="#555555" stroke-width="0.4">Jan</text>
<text transform="translate(161.56 959.60) scale(1.1430 1)" font-size="23.8" font-weight="bold" fill="#555555" stroke="#555555" stroke-width="0.4">Feb</text>
<text transform="translate(238.43 959.60) scale(1.1740 1)" font-size="23.8" font-weight="bold" fill="#555555" stroke="#555555" stroke-width="0.4">Mar</text>
<text transform="translate(327.00 959.60) scale(1.1419 1)" font-size="23.8" font-weight="bold" fill="#555555" stroke="#555555" stroke-width="0.4">Apr</text>
<text transform="translate(406.83 959.60) scale(1.1724 1)" font-size="23.8" font-weight="bold" fill="#555555" stroke="#555555" stroke-width="0.4">May</text>
<text transform="translate(497.00 959.60) scale(1.1491 1)" font-size="23.8" font-weight="bold" fill="#555555" stroke="#555555" stroke-width="0.4">Jun</text>
<text transform="translate(585.00 959.60) scale(1.1291 1)" font-size="23.8" font-weight="bold" fill="#555555" stroke="#555555" stroke-width="0.4">Jul</text>
<text transform="translate(666.00 959.60) scale(1.2075 1)" font-size="23.8" font-weight="bold" fill="#555555" stroke="#555555" stroke-width="0.4">Aug</text>
<text transform="translate(755.00 959.60) scale(1.1135 1)" font-size="23.8" font-weight="bold" fill="#555555" stroke="#555555" stroke-width="0.4">Sep</text>
<text transform="translate(842.00 959.60) scale(1.1700 1)" font-size="23.8" font-weight="bold" fill="#555555" stroke="#555555" stroke-width="0.4">Oct</text>
<text transform="translate(925.88 959.60) scale(1.1180 1)" font-size="23.8" font-weight="bold" fill="#555555" stroke="#555555" stroke-width="0.4">Nov</text>
<text transform="translate(1009.80 959.60) scale(1.2023 1)" font-size="23.8" font-weight="bold" fill="#555555" stroke="#555555" stroke-width="0.4">Dec</text>
<text transform="translate(26.09 346.60) scale(1.1078 1)" font-size="25" font-weight="bold" fill="#555555" stroke="#555555" stroke-width="0.4">140</text>
<text transform="translate(28.76 419.85) scale(1.0425 1)" font-size="25" font-weight="bold" fill="#555555" stroke="#555555" stroke-width="0.4">130</text>
<text transform="translate(28.76 493.10) scale(1.0425 1)" font-size="25" font-weight="bold" fill="#555555" stroke="#555555" stroke-width="0.4">120</text>
<text transform="translate(33.75 566.35) scale(0.9524 1)" font-size="25" font-weight="bold" fill="#555555" stroke="#555555" stroke-width="0.4">110</text>
<text transform="translate(26.60 639.60) scale(1.0953 1)" font-size="25" font-weight="bold" fill="#555555" stroke="#555555" stroke-width="0.4">100</text>
<text transform="translate(38.70 712.85) scale(1.2117 1)" font-size="25" font-weight="bold" fill="#555555" stroke="#555555" stroke-width="0.4">90</text>
<text transform="translate(38.70 786.10) scale(1.2117 1)" font-size="25" font-weight="bold" fill="#555555" stroke="#555555" stroke-width="0.4">80</text>
<text transform="translate(38.79 859.35) scale(1.2083 1)" font-size="25" font-weight="bold" fill="#555555" stroke="#555555" stroke-width="0.4">70</text>
<text transform="translate(40.00 932.60) scale(1.1634 1)" font-size="25" font-weight="bold" fill="#555555" stroke="#555555" stroke-width="0.4">60</text>
</g>
<g transform="translate(1000 960) scale(0.04625)"><path d="M605 92C608 92 583 101 575 112C567 123 560 142 558 160C556 178 555 198 560 220C565 242 573 265 590 290C607 315 632 337 660 370C688 403 727 448 760 490C793 532 830 575 860 620C890 665 919 717 940 760C961 803 972 843 985 880C998 917 1008 947 1015 980C1022 1013 1028 1045 1030 1080C1032 1115 1032 1153 1025 1190C1018 1227 1009 1269 990 1300C971 1331 942 1358 910 1375C878 1392 835 1398 800 1402C765 1406 720 1404 700 1397C680 1390 677 1368 680 1360C683 1352 697 1356 720 1350C743 1344 791 1339 820 1327C849 1315 876 1298 895 1277C914 1256 924 1233 932 1200C940 1167 944 1120 943 1080C942 1040 936 998 928 960C920 922 910 887 898 850C886 813 876 778 858 740C840 702 816 662 790 620C764 578 730 529 700 490C670 451 635 415 610 385C585 355 563 336 548 310C533 284 526 255 522 230C518 205 521 180 527 160C533 140 545 121 558 110C571 99 602 92 605 92Z" fill="#302f2b" stroke="#302f2b" stroke-width="16" stroke-linejoin="round"/>
<path d="M555 340C546 345 528 378 525 400C522 422 526 446 535 470C544 494 561 520 580 545C599 570 628 592 650 620C672 648 693 680 710 710C727 740 738 772 750 800C762 828 772 857 780 880C788 903 783 920 795 940C807 960 838 998 850 1000C862 1002 869 973 868 950C867 927 856 892 845 860C834 828 822 793 805 760C788 727 768 692 745 660C722 628 690 597 665 570C640 543 609 523 592 500C575 477 565 452 563 430C561 408 579 385 578 370C577 355 564 335 555 340Z" fill="#302f2b" stroke="#302f2b" stroke-width="16" stroke-linejoin="round"/>
<path d="M835 825C819 821 792 863 770 880C748 897 714 914 700 927C686 940 680 945 683 957C686 969 698 997 718 1000C738 1003 778 982 800 975C822 968 839 972 850 960C861 948 868 928 866 905C864 882 851 829 835 825Z" fill="#302f2b" stroke="#302f2b" stroke-width="16" stroke-linejoin="round"/>
<path d="M862 985C868 997 842 1055 822 1087C802 1119 765 1149 742 1177C719 1205 697 1230 682 1257C667 1284 659 1307 654 1337C649 1367 652 1404 650 1437C648 1470 648 1507 642 1537C636 1567 632 1598 617 1617C602 1636 573 1650 550 1652C527 1654 502 1647 478 1632C454 1617 426 1590 408 1562C390 1534 380 1486 372 1462C364 1438 355 1424 360 1420C365 1416 388 1427 400 1440C412 1453 418 1476 430 1500C442 1524 455 1564 470 1585C485 1606 504 1624 520 1628C536 1632 555 1624 568 1612C581 1600 592 1583 598 1557C604 1531 605 1490 605 1457C605 1424 598 1390 598 1357C598 1324 601 1287 608 1257C615 1227 625 1204 640 1177C655 1150 676 1124 700 1097C724 1070 758 1034 785 1015C812 996 856 973 862 985Z" fill="#302f2b" stroke="#302f2b" stroke-width="16" stroke-linejoin="round"/>
<path d="M440 1092C445 1068 482 1057 500 1040C518 1023 541 987 550 990C559 993 558 1031 553 1057C548 1083 521 1119 522 1147C523 1175 545 1205 560 1227C575 1249 607 1262 612 1277C617 1292 605 1320 590 1317C575 1314 540 1279 520 1257C500 1235 483 1214 470 1187C457 1160 435 1116 440 1092Z" fill="#302f2b" stroke="#302f2b" stroke-width="16" stroke-linejoin="round"/>
<path d="M522 395C520 416 516 479 512 520C508 561 504 603 497 640C490 677 479 708 467 740C455 772 440 800 427 830C414 860 404 888 392 920C380 952 367 985 358 1020C349 1055 343 1095 340 1130C337 1165 337 1197 340 1230C343 1263 350 1297 357 1330C364 1363 380 1413 385 1430" fill="none" stroke="#302f2b" stroke-width="42" stroke-linecap="round" stroke-linejoin="round"/>
<path d="M566 505C567 521 573 568 570 600C567 632 559 667 550 700C541 733 526 770 516 800C506 830 499 850 492 880C485 910 479 950 472 980C465 1010 455 1047 452 1060" fill="none" stroke="#302f2b" stroke-width="34" stroke-linecap="round" stroke-linejoin="round"/>
<path d="M532 600C529 617 521 667 512 700C503 733 489 767 480 800C471 833 463 867 457 900C451 933 446 970 442 1000C438 1030 435 1067 434 1080" fill="none" stroke="#302f2b" stroke-width="14" stroke-linecap="round" stroke-linejoin="round"/>
<path d="M492 588C478 587 432 620 400 638C368 656 333 676 300 698C267 720 229 743 200 768C171 793 145 820 128 850C111 880 104 917 98 950C92 983 91 1015 93 1050C95 1085 99 1122 108 1160C117 1198 131 1243 148 1280C165 1317 184 1355 208 1382C232 1409 263 1429 290 1442C317 1455 357 1465 372 1462C387 1459 394 1432 382 1422C370 1412 324 1414 300 1400C276 1386 255 1362 236 1338C217 1314 201 1288 187 1258C173 1228 160 1193 152 1158C144 1123 139 1083 137 1050C135 1017 135 990 142 962C149 934 160 905 177 882C194 859 220 842 242 822C264 802 285 783 312 762C339 741 374 717 402 697C430 677 467 660 482 642C497 624 506 589 492 588Z" fill="#302f2b" stroke="#302f2b" stroke-width="16" stroke-linejoin="round"/>
<circle cx="452" cy="482" r="44" fill="#302f2b"/>
<circle cx="388" cy="562" r="44" fill="#302f2b"/>
<path d="M470 520C471 527 480 547 478 560C476 573 459 593 455 600" fill="none" stroke="#302f2b" stroke-width="16" stroke-linecap="round" stroke-linejoin="round"/>
<ellipse cx="225" cy="1147" rx="62" ry="76" fill="none" stroke="#302f2b" stroke-width="60"/>
<path d="M640 1033L694 1087L640 1141L586 1087Z" fill="#302f2b"/>
<path d="M830 1163L884 1217L830 1271L776 1217Z" fill="#302f2b"/>
<path d="M512 1317L562 1367L512 1417L462 1367Z" fill="#302f2b"/>
<path d="M492 1437L542 1487L492 1537L442 1487Z" fill="#302f2b"/>
<path d="M318 830C310 835 279 848 270 860C261 872 259 889 262 900C265 911 285 921 290 925" fill="none" stroke="#302f2b" stroke-width="22" stroke-linecap="round" stroke-linejoin="round"/>
<path d="M570 917C589 898 666 820 685 800" fill="none" stroke="#302f2b" stroke-width="20" stroke-linecap="round" stroke-linejoin="round"/>
<path d="M680 1452C688 1458 719 1479 730 1490C741 1501 742 1515 745 1520" fill="none" stroke="#302f2b" stroke-width="22" stroke-linecap="round" stroke-linejoin="round"/></g>

</svg>
</body></html>
